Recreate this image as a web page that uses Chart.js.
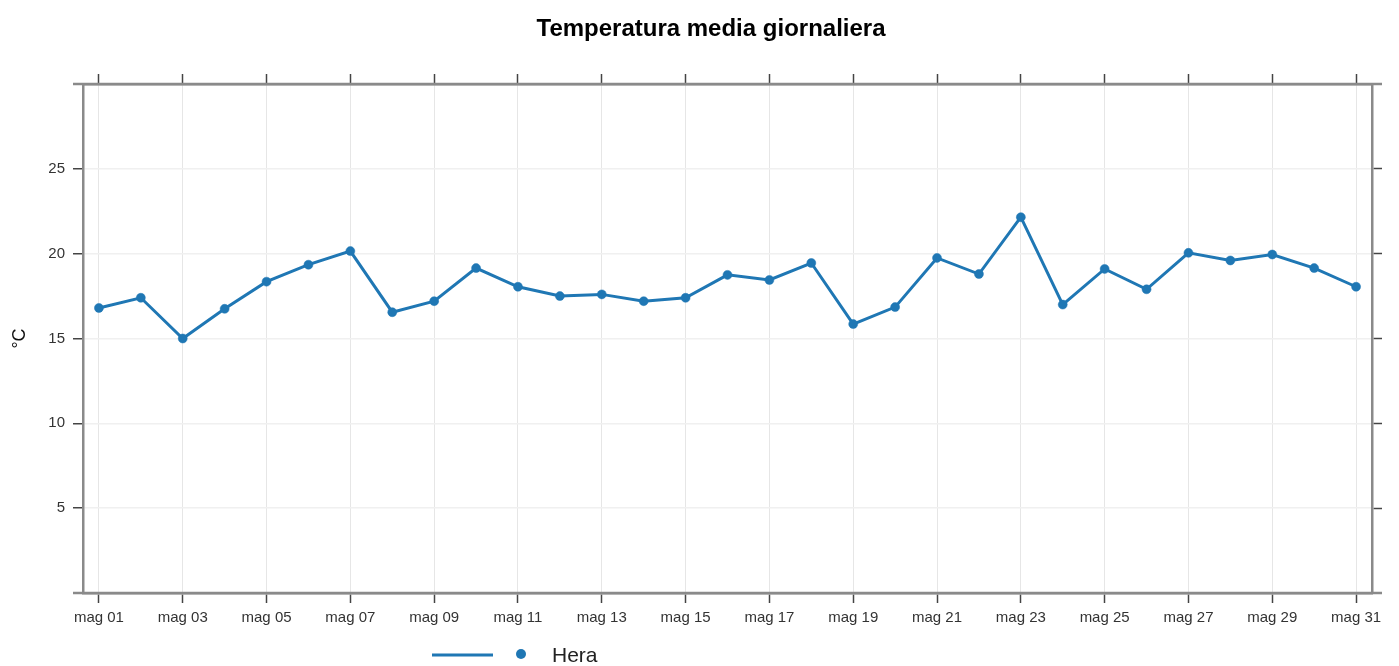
<!DOCTYPE html>
<html>
<head>
<meta charset="utf-8">
<script src="https://cdn.jsdelivr.net/npm/chart.js@4"></script>
<style>
  html, body { margin: 0; padding: 0; background: #fff; }
  #wrap { width: 1399px; height: 666px; }
</style>
</head>
<body>
<div id="wrap"><canvas id="temp-chart" width="1399" height="666"></canvas></div>
<script>
const days = [1, 2, 3, 4, 5, 6, 7, 8, 9, 10, 11, 12, 13, 14, 15, 16,
    17, 18, 19, 20, 21, 22, 23, 24, 25, 26, 27, 28, 29, 30, 31];
const heraTemp = [16.8, 17.4, 15.0, 16.75, 18.35, 19.35, 20.15, 16.55, 17.2, 19.15, 18.05,
    17.5, 17.6, 17.2, 17.4, 18.75, 18.45, 19.45, 15.85, 16.85, 19.75, 18.8, 22.15,
    17.0, 19.1, 17.9, 20.05, 19.6, 19.95, 19.15, 18.05];
const xTicks = [1, 3, 5, 7, 9, 11, 13, 15, 17, 19, 21, 23, 25, 27, 29, 31];
const yTicks = [5, 10, 15, 20, 25];

const blue = 'rgb(31, 119, 180)';
const frame = '#8a8a8a';
const tickMark = '#444';
const fontFam = '"Liberation Sans", Arial, sans-serif';

const dayLabel = v => 'mag ' + String(v).padStart(2, '0');

function setTicks(list) {
    return scale => { scale.ticks = list.map(v => ({ value: v })); };
}
function fixSize(size) {
    return scale => {
        if (scale.isHorizontal()) scale.height = size; else scale.width = size;
    };
}

// title, frame overhang and hand drawn legend (line + dot + label)
const extras = {
    id: 'extras',
    afterDraw(chart) {
        const ctx = chart.ctx;
        const a = chart.chartArea;
        ctx.save();

        // horizontal axis lines run a bit past the corners
        ctx.strokeStyle = frame;
        ctx.lineWidth = 2.5;
        [a.top, a.bottom].forEach(y => {
            ctx.beginPath();
            ctx.moveTo(a.left - 10, y);
            ctx.lineTo(a.right + 10, y);
            ctx.stroke();
        });

        ctx.fillStyle = '#000';
        ctx.font = 'bold 24px ' + fontFam;
        ctx.textAlign = 'center';
        ctx.textBaseline = 'alphabetic';
        ctx.fillText('Temperatura media giornaliera', 711, 36);

        const ds = chart.data.datasets[0];
        ctx.strokeStyle = ds.borderColor;
        ctx.lineWidth = 3;
        ctx.beginPath();
        ctx.moveTo(432, 655);
        ctx.lineTo(493, 655);
        ctx.stroke();
        ctx.fillStyle = ds.borderColor;
        ctx.beginPath();
        ctx.arc(521, 654, 5, 0, Math.PI * 2);
        ctx.fill();
        ctx.fillStyle = '#222';
        ctx.font = '21px ' + fontFam;
        ctx.textAlign = 'left';
        ctx.textBaseline = 'middle';
        ctx.fillText(ds.label, 552, 656);
        ctx.restore();
    }
};

const tempCanvas = document.getElementById('temp-chart');

let tempChart = new Chart(tempCanvas, {
    type: 'line',
    data: {
        datasets: [{
            label: 'Hera',
            data: days.map((d, i) => ({ x: d, y: heraTemp[i] })),
            borderColor: blue,
            backgroundColor: blue,
            borderWidth: 3,
            pointRadius: 4.5,
            pointBorderWidth: 0.5,
            pointHoverRadius: 5,
            tension: 0
        }]
    },
    plugins: [extras],
    options: {
        responsive: false,
        animation: false,
        layout: { padding: 0 },
        plugins: {
            legend: { display: false },
            title: { display: false },
            tooltip: { enabled: false }
        },
        scales: {
            x: {
                type: 'linear',
                position: 'bottom',
                min: 0.62,
                max: 31.38,
                afterBuildTicks: setTicks(xTicks),
                afterFit: fixSize(73),
                grid: { color: '#e6e6e6', lineWidth: 1, tickColor: tickMark, tickLength: 10, tickWidth: 1.5 },
                border: { color: frame, width: 2.5 },
                ticks: {
                    callback: v => dayLabel(v),
                    color: '#333',
                    font: { family: fontFam, size: 15 },
                    padding: 6,
                    maxRotation: 0,
                    autoSkip: false
                }
            },
            x2: {
                type: 'linear',
                position: 'top',
                min: 0.62,
                max: 31.38,
                afterBuildTicks: setTicks(xTicks),
                afterFit: fixSize(84),
                grid: { drawOnChartArea: false, tickColor: tickMark, tickLength: 10, tickWidth: 1.5 },
                border: { color: frame, width: 2.5 },
                ticks: { display: false }
            },
            y: {
                position: 'left',
                min: 0,
                max: 30,
                afterBuildTicks: setTicks(yTicks),
                afterFit: fixSize(83),
                grid: { color: '#f0f0f0', lineWidth: 1.5, tickColor: tickMark, tickLength: 10, tickWidth: 1.5 },
                border: { color: frame, width: 2.5 },
                ticks: {
                    color: '#333',
                    font: { family: fontFam, size: 15 },
                    padding: 8
                },
                title: {
                    display: true,
                    text: '°C',
                    color: '#111',
                    font: { family: fontFam, size: 18 },
                    padding: { top: 9, bottom: 0 }
                }
            },
            y2: {
                position: 'right',
                min: 0,
                max: 30,
                afterBuildTicks: setTicks(yTicks),
                afterFit: fixSize(27),
                grid: { drawOnChartArea: false, tickColor: tickMark, tickLength: 10, tickWidth: 1.5 },
                border: { color: frame, width: 2.5 },
                ticks: { display: false }
            }
        }
    }
});
</script>
</body>
</html>
